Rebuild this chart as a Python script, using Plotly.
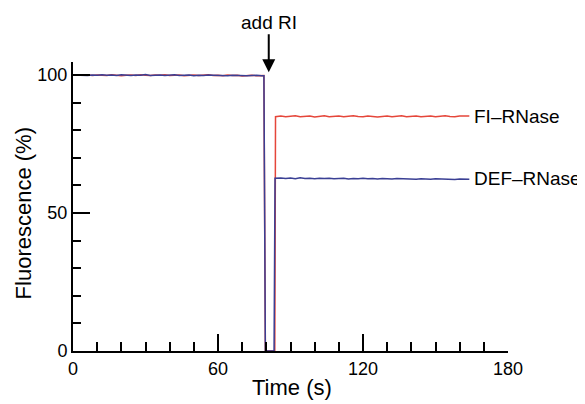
import plotly.graph_objects as go

# ---- data ----
t_pre = [0, 2, 4, 6, 8, 10, 12, 14, 16, 18, 20, 22, 24, 26, 28, 30, 32, 34, 36, 38,
         40, 42, 44, 46, 48, 50, 52, 54, 56, 58, 60, 62, 64, 66, 68, 70, 72, 74, 76, 78]
fl_pre = [99.9, 100.0, 99.9, 100.1, 99.8, 100.0, 99.9, 99.8, 100.1, 100.0,
          99.7, 99.9, 100.0, 99.8, 100.1, 99.9, 99.8, 100.0, 99.9, 100.1,
          99.8, 99.9, 100.0, 99.7, 99.9, 100.0, 99.8, 99.9, 100.1, 99.8,
          99.9, 99.7, 100.0, 99.8, 99.9, 99.6, 99.8, 99.9, 99.7, 99.8]
def_pre = [100.0, 99.9, 100.0, 99.8, 100.0, 99.9, 100.1, 99.9, 100.0, 99.8,
           100.1, 99.9, 99.8, 100.0, 99.9, 100.2, 99.8, 99.9, 100.0, 99.8,
           99.9, 100.1, 99.8, 99.9, 100.0, 99.7, 99.9, 99.8, 100.0, 99.9,
           99.8, 99.9, 99.7, 99.9, 99.8, 99.9, 99.7, 99.8, 99.9, 99.7]

t_gap_fl = [79.0, 79.6, 83.5, 83.8]
fl_gap = [99.8, 0.0, 0.0, 84.9]
t_gap_def = [79.0, 79.6, 83.2, 83.6]
def_gap = [99.7, 0.0, 0.0, 62.6]

t_post = [86, 88, 90, 92, 94, 96, 98, 100, 102, 104, 106, 108, 110, 112, 114, 116,
          118, 120, 122, 124, 126, 128, 130, 132, 134, 136, 138, 140, 142, 144, 146,
          148, 150, 152, 154, 156, 158, 160, 162, 164]
fl_post = [85.1, 84.9, 85.0, 85.2, 84.9, 85.0, 85.1, 84.8, 85.0, 85.2,
           84.9, 85.0, 85.1, 84.9, 85.0, 85.2, 85.0, 84.9, 85.1, 85.0,
           84.8, 85.0, 85.1, 84.9, 85.0, 85.2, 84.9, 85.0, 85.1, 84.9,
           85.0, 85.1, 84.9, 85.0, 85.2, 85.0, 84.9, 85.1, 85.0, 85.1]
def_post = [62.7, 62.5, 62.7, 62.4, 62.8, 62.5, 62.6, 62.4, 62.6, 62.5,
            62.6, 62.4, 62.5, 62.6, 62.3, 62.5, 62.4, 62.6, 62.4, 62.5,
            62.3, 62.5, 62.4, 62.3, 62.5, 62.4, 62.3, 62.4, 62.2, 62.4,
            62.3, 62.2, 62.4, 62.3, 62.2, 62.3, 62.1, 62.3, 62.2, 62.2]

t_fl = t_pre + t_gap_fl + t_post
y_fl = fl_pre + fl_gap + fl_post
t_def = t_pre + t_gap_def + t_post
y_def = def_pre + def_gap + def_post

FONT = "Liberation Sans, Arial, sans-serif"
RED = "#e5463a"
BLUE = "#3a3f94"

fig = go.Figure()
fig.add_trace(go.Scatter(x=t_fl, y=y_fl, mode="lines", line=dict(color=RED, width=1.5),
                         showlegend=False, cliponaxis=False))
fig.add_trace(go.Scatter(x=t_def, y=y_def, mode="lines", line=dict(color=BLUE, width=1.5),
                         showlegend=False, cliponaxis=False))

fig.update_layout(
    width=585, height=404,
    margin=dict(l=65, r=85, t=54, b=61, autoexpand=False),
    paper_bgcolor="white", plot_bgcolor="white",
    font=dict(family=FONT, color="black", size=18),
    xaxis=dict(range=[0, 180], tickvals=[0, 60, 120, 180], ticks="inside", ticklen=17,
               tickwidth=2, tickcolor="black", showline=True, linecolor="black", linewidth=2,
               showgrid=False, zeroline=False, tickfont=dict(size=18), automargin=False,
               minor=dict(dtick=10, ticks="inside", ticklen=9, tickwidth=2, tickcolor="black",
                          showgrid=False)),
    yaxis=dict(range=[0, 104.7], tickvals=[0, 50, 100], ticks="inside", ticklen=17,
               tickwidth=2, tickcolor="black", showline=True, linecolor="black", linewidth=2,
               showgrid=False, zeroline=False, tickfont=dict(size=18), automargin=False,
               minor=dict(dtick=10, ticks="inside", ticklen=8, tickwidth=2, tickcolor="black",
                          showgrid=False)),
)

# axis titles
fig.add_annotation(x=0.503, y=-0.128, xref="paper", yref="paper", text="Time (s)",
                   showarrow=False, xanchor="center", yanchor="middle", font=dict(size=22))
fig.add_annotation(x=-0.115, y=0.476, xref="paper", yref="paper", text="Fluorescence (%)",
                   showarrow=False, xanchor="center", yanchor="middle", textangle=-90,
                   font=dict(size=22))

fig.add_annotation(x=165, y=85.0, xref="x", yref="y", text="FI–RNase", showarrow=False,
                   xanchor="left", yanchor="middle", font=dict(size=19))
fig.add_annotation(x=165, y=62.4, xref="x", yref="y", text="DEF–RNase", showarrow=False,
                   xanchor="left", yanchor="middle", font=dict(size=19))
fig.add_annotation(x=81.0, y=101, xref="x", yref="y", text="add RI", showarrow=True,
                   arrowhead=2, arrowsize=1.3, arrowwidth=2, arrowcolor="black",
                   ax=0, ay=-50, font=dict(size=19))

fig.write_html("out.html")
